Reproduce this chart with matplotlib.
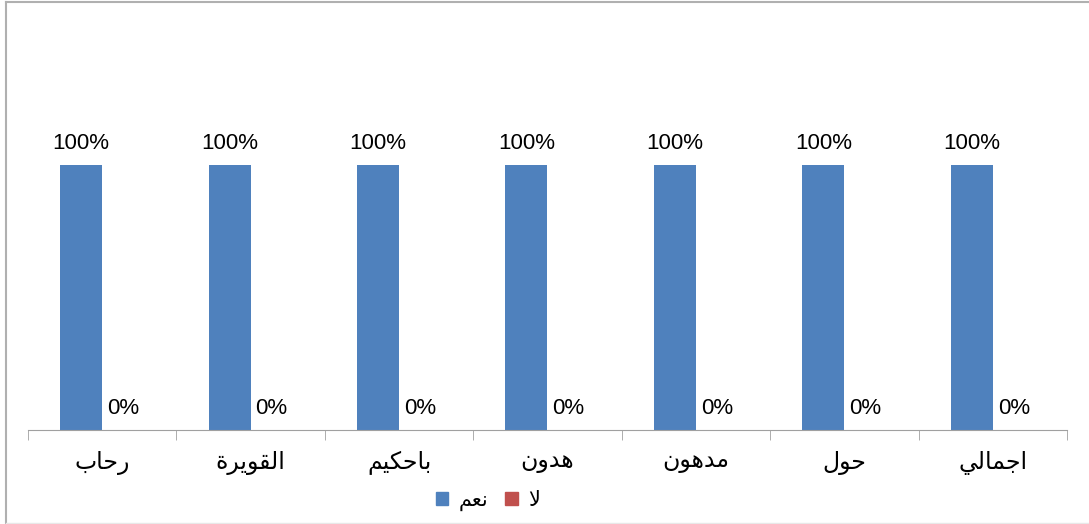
import numpy as np
import matplotlib.pyplot as plt
from matplotlib.lines import Line2D
from matplotlib.patches import Patch

# Data
categories = ['رحاب', 'القويرة', 'باحكيم', 'هدون', 'مدهون', 'حول', 'اجمالي']
yes_vals = [1.0, 1.0, 1.0, 1.0, 1.0, 1.0, 1.0]
no_vals = [0.0, 0.0, 0.0, 0.0, 0.0, 0.0, 0.0]
series_names = ['نعم', 'لا']

# simple Arabic shaping (presentation forms) since matplotlib doesn't shape
FORMS = {  # isolated, final, initial, medial
    'ا': ('\uFE8D', '\uFE8E', None, None),
    'ب': ('\uFE8F', '\uFE90', '\uFE91', '\uFE92'),
    'ة': ('\uFE93', '\uFE94', None, None),
    'ج': ('\uFE9D', '\uFE9E', '\uFE9F', '\uFEA0'),
    'ح': ('\uFEA1', '\uFEA2', '\uFEA3', '\uFEA4'),
    'د': ('\uFEA9', '\uFEAA', None, None),
    'ر': ('\uFEAD', '\uFEAE', None, None),
    'ع': ('\uFEC9', '\uFECA', '\uFECB', '\uFECC'),
    'ق': ('\uFED5', '\uFED6', '\uFED7', '\uFED8'),
    'ك': ('\uFED9', '\uFEDA', '\uFEDB', '\uFEDC'),
    'ل': ('\uFEDD', '\uFEDE', '\uFEDF', '\uFEE0'),
    'م': ('\uFEE1', '\uFEE2', '\uFEE3', '\uFEE4'),
    'ن': ('\uFEE5', '\uFEE6', '\uFEE7', '\uFEE8'),
    'ه': ('\uFEE9', '\uFEEA', '\uFEEB', '\uFEEC'),
    'و': ('\uFEED', '\uFEEE', None, None),
    'ي': ('\uFEF1', '\uFEF2', '\uFEF3', '\uFEF4'),
    'ﻻ': ('\uFEFB', '\uFEFC', None, None),
}


def shape(word):
    word = word.replace('لا', 'ﻻ')
    out = []
    for i, ch in enumerate(word):
        if ch not in FORMS:
            out.append(ch)
            continue
        prev = word[i - 1] if i > 0 else None
        nxt = word[i + 1] if i < len(word) - 1 else None
        jp = prev in FORMS and FORMS[prev][2] is not None
        jn = FORMS[ch][2] is not None and nxt in FORMS
        iso, fin, ini, med = FORMS[ch]
        if jp and jn:
            out.append(med)
        elif jp:
            out.append(fin)
        elif jn:
            out.append(ini)
        else:
            out.append(iso)
    return ''.join(out)[::-1]


plt.rcParams['font.family'] = ['Liberation Sans', 'DejaVu Sans']

blue = '#4f81bd'
red = '#c0504d'

fig = plt.figure(figsize=(10.89, 5.24), dpi=100)
W, H = 1089, 524
ax = fig.add_axes([28 / W, 1 - 430 / H, (1067 - 28) / W, 318 / H])

x = np.arange(len(categories))
w = 0.283
b1 = ax.bar(x - w / 2, yes_vals, w, color=blue)
b2 = ax.bar(x + w / 2, no_vals, w, color=red)

for rect, v in zip(b1, yes_vals):
    ax.annotate(f'{v:.0%}', (rect.get_x() + rect.get_width() / 2, v),
                xytext=(0, 8), textcoords='offset points',
                ha='center', va='bottom', fontsize=16)
for rect, v in zip(b2, no_vals):
    ax.annotate(f'{v:.0%}', (rect.get_x() + rect.get_width() / 2, v),
                xytext=(0, 8), textcoords='offset points',
                ha='center', va='bottom', fontsize=16)

ax.set_xlim(-0.5, len(categories) - 0.5)
ax.set_ylim(0, 1.2)
ax.set_yticks([])
for s in ['top', 'right', 'left']:
    ax.spines[s].set_visible(False)
ax.spines['bottom'].set_color('#a0a0a0')
ax.set_xticks(np.arange(len(categories) + 1) - 0.5, minor=True)
ax.set_xticks(x)
ax.set_xticklabels([shape(c) for c in categories], fontsize=17)
ax.tick_params(axis='x', which='major', length=0, pad=15)
ax.tick_params(axis='x', which='minor', length=7, color='#a0a0a0')

handles = [Patch(color=blue), Patch(color=red)]
fig.legend(handles, [shape(s) for s in series_names], ncol=2,
           loc='center', bbox_to_anchor=(488 / W, 1 - 501 / H),
           frameon=False, fontsize=15, handlelength=0.6, handleheight=0.6,
           handletextpad=0.5, columnspacing=0.8)

# outer chart border
fig.add_artist(Line2D([6 / W, 1], [1 - 2 / H, 1 - 2 / H], color='#b0b0b0', lw=1.5))
fig.add_artist(Line2D([6 / W, 6 / W], [0, 1 - 2 / H], color='#b0b0b0', lw=1.5))
fig.add_artist(Line2D([6 / W, 1], [1 / H, 1 / H], color='#e8e8e8', lw=1))

plt.savefig('out.png', dpi=100)
